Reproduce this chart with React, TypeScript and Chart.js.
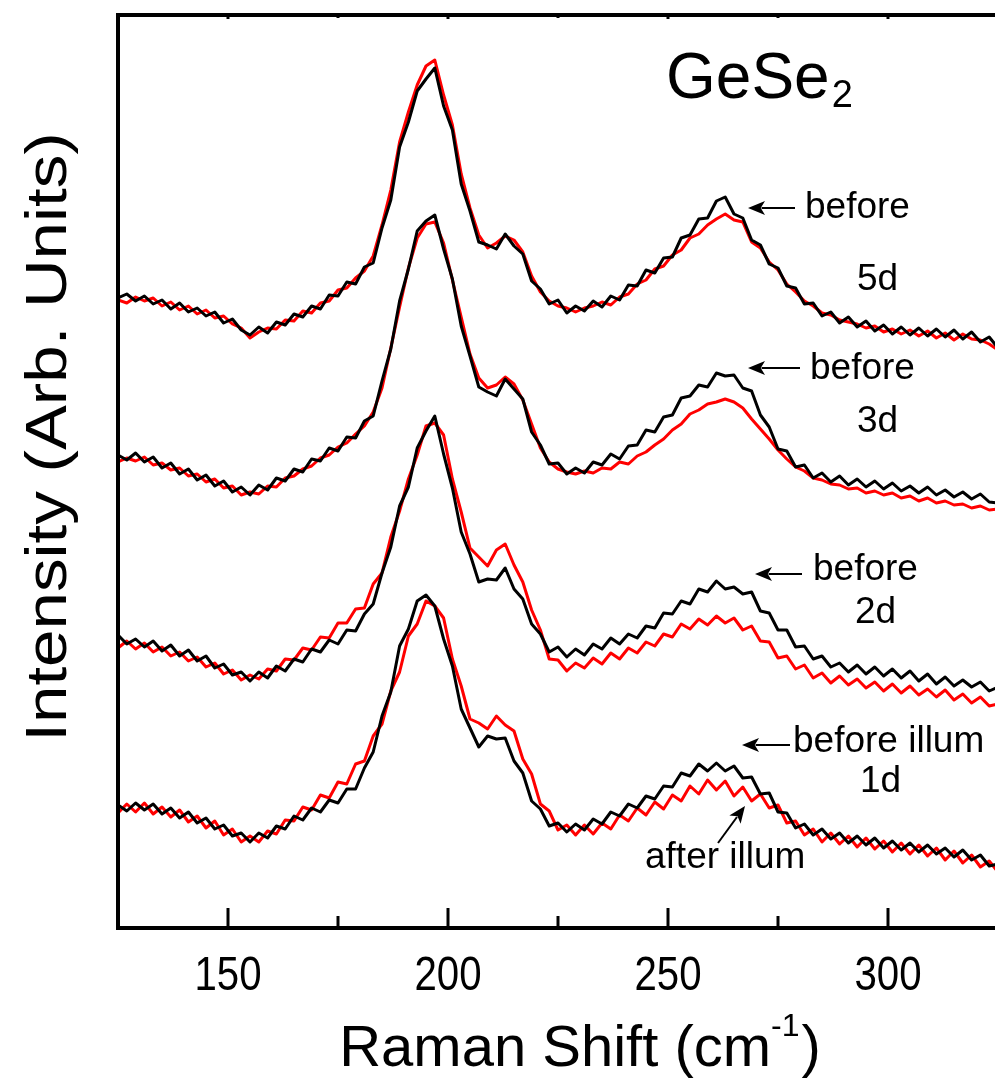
import React, { useEffect, useRef } from "react";
import { Chart, registerables } from "chart.js";

Chart.register(...registerables);

// Raman shift sampling grid (cm^-1)
const SHIFT = [
  125, 127, 129, 131, 133, 135, 137, 139, 141, 143,
  145, 147, 149, 151, 153, 155, 157, 159, 161, 163,
  165, 167, 169, 171, 173, 175, 177, 179, 181, 183,
  185, 187, 189, 191, 193, 195, 197, 199, 201, 203,
  205, 207, 209, 211, 213, 215, 217, 219, 221, 223,
  225, 227, 229, 231, 233, 235, 237, 239, 241, 243,
  245, 247, 249, 251, 253, 255, 257, 259, 261, 263,
  265, 267, 269, 271, 273, 275, 277, 279, 281, 283,
  285, 287, 289, 291, 293, 295, 297, 299, 301, 303,
  305, 307, 309, 311, 313, 315, 317, 319, 321, 323,
  325,
];

// Offset intensities (arb. units), "before" = black, "after" = red
const BEFORE_5D = [
  702, 706, 699, 704, 696, 700, 691, 697, 688, 692,
  684, 688, 677, 681, 670, 665, 673, 667, 678, 675,
  686, 683, 694, 691, 705, 704, 718, 716, 733, 737,
  772, 800, 853, 878, 909, 921, 932, 894, 870, 816,
  789, 758, 755, 751, 766, 754, 746, 719, 711, 696,
  700, 687, 694, 689, 699, 693, 704, 700, 715, 714,
  730, 727, 742, 743, 762, 765, 781, 782, 799, 803,
  786, 782, 760, 755, 736, 732, 714, 712, 696, 697,
  684, 688, 677, 683, 673, 679, 669, 675, 666, 673,
  665, 672, 664, 671, 663, 670, 661, 668, 658, 663,
  652,
];
const AFTER_5D = [
  700, 697, 703, 699, 702, 694, 698, 690, 694, 686,
  690, 682, 684, 676, 672, 662, 668, 672, 671, 680,
  679, 689, 687, 697, 699, 710, 712, 722, 729, 744,
  775, 810, 858, 888, 915, 934, 940, 905, 875, 826,
  792, 765, 752, 757, 764, 760, 748, 724, 708, 699,
  694, 692, 688, 692, 694, 698, 695, 703, 706, 716,
  720, 731, 734, 745, 750, 762, 766, 775, 781, 786,
  780, 778, 758, 752, 738, 730, 716, 708, 699, 694,
  687, 685, 680, 678, 676, 672, 674, 668, 671, 666,
  670, 664, 669, 662, 667, 660, 666, 661, 660, 656,
  650,
];
const BEFORE_3D = [
  545, 540, 547, 538, 543, 532, 537, 526, 531, 520,
  525, 514, 519, 508, 513, 505, 515, 510, 522, 519,
  531, 528, 541, 539, 552, 549, 563, 562, 579, 584,
  619, 651, 699, 731, 769, 779, 785, 751, 721, 674,
  644, 613, 608, 604, 621, 611, 601, 568, 555, 536,
  537, 526, 532, 527, 538, 535, 546, 541, 554, 555,
  570, 568, 583, 585, 602, 604, 615, 613, 627, 624,
  625, 612, 609, 585, 573, 551, 549, 533, 535, 522,
  527, 518, 524, 515, 521, 513, 519, 511, 517, 509,
  514, 507, 513, 505, 510, 503, 508, 501, 506, 498,
  497,
];
const AFTER_3D = [
  538, 542, 539, 543, 535, 537, 530, 532, 524, 526,
  518, 521, 512, 514, 505, 508, 506, 514, 513, 522,
  524, 531, 534, 542, 545, 553, 557, 566, 574, 588,
  612, 652, 693, 732, 762, 776, 778, 757, 720, 683,
  646, 622, 612, 615, 623, 616, 600, 576, 552, 538,
  531, 528, 526, 529, 527, 532, 531, 538, 536, 544,
  548, 555, 561, 570, 576, 586, 590, 596, 598, 601,
  598, 592, 581, 571, 561, 550, 541, 533, 529, 522,
  520, 516, 515, 511, 512, 507, 509, 505, 507, 502,
  504, 499, 502, 497, 499, 495, 496, 492, 494, 490,
  491,
];
const BEFORE_2D = [
  365, 356, 361, 353, 359, 349, 355, 344, 350, 339,
  344, 332, 336, 325, 328, 319, 328, 322, 334, 329,
  341, 338, 351, 348, 360, 356, 370, 369, 386, 396,
  427, 453, 494, 513, 552, 569, 584, 546, 512, 468,
  446, 418, 421, 420, 432, 411, 401, 376, 366, 348,
  353, 343, 351, 345, 356, 351, 362, 356, 366, 362,
  374, 372, 387, 386, 399, 396, 411, 408, 419, 411,
  413, 406, 408, 389, 387, 370, 370, 353, 354, 341,
  344, 333, 337, 328, 335, 326, 333, 324, 331, 322,
  329, 319, 326, 316, 323, 314, 320, 313, 318, 309,
  313,
];
const AFTER_2D = [
  352, 359, 351, 357, 348, 353, 344, 348, 339, 343,
  333, 337, 326, 330, 320, 325, 321, 331, 329, 341,
  340, 352, 350, 363, 362, 377, 377, 391, 392, 416,
  427, 463, 489, 521, 545, 574, 577, 565, 521, 488,
  452, 443, 434, 450, 456, 435, 418, 390, 370, 341,
  340, 329, 337, 332, 342, 336, 347, 341, 352, 347,
  358, 354, 366, 363, 376, 371, 381, 375, 384, 377,
  382, 370, 374, 359, 358, 342, 344, 331, 335, 322,
  327, 317, 324, 315, 321, 312, 318, 309, 316, 307,
  314, 305, 311, 303, 310, 300, 306, 297, 303, 294,
  296,
];
const BEFORE_1D = [
  195, 189, 197, 190, 196, 186, 192, 182, 188, 177,
  182, 171, 175, 164, 167, 158, 167, 162, 174, 171,
  184, 180, 192, 188, 200, 197, 211, 211, 232, 248,
  284, 308, 354, 371, 399, 405, 394, 361, 334, 291,
  272, 253, 264, 261, 262, 239, 227, 199, 191, 174,
  177, 168, 176, 170, 181, 176, 188, 184, 196, 192,
  204, 201, 214, 213, 227, 224, 236, 229, 237, 229,
  234, 222, 223, 206, 207, 188, 187, 172, 176, 165,
  171, 161, 167, 157, 164, 155, 162, 152, 159, 150,
  157, 148, 155, 146, 152, 143, 150, 140, 145, 134,
  136,
];
const AFTER_1D = [
  187, 196, 188, 197, 186, 193, 183, 190, 178, 184,
  172, 179, 165, 171, 158, 164, 158, 169, 166, 180,
  179, 193, 190, 205, 202, 218, 216, 236, 239, 264,
  276, 309, 328, 364, 376, 399, 394, 382, 341, 314,
  281, 277, 271, 284, 275, 269, 241, 226, 196, 189,
  170, 175, 165, 175, 166, 177, 171, 185, 179, 192,
  185, 198, 191, 205, 199, 214, 206, 220, 210, 219,
  204, 213, 199, 206, 192, 195, 177, 179, 165, 171,
  158, 167, 156, 164, 153, 162, 151, 159, 148, 157,
  146, 155, 144, 152, 140, 149, 137, 145, 133, 139,
  128,
];

const MAJOR_TICKS = [150, 200, 250, 300];
const MINOR_TICKS = [175, 225, 275];
const X_MIN = 125;
const X_MAX = 325;
const Y_MIN = 72;
const Y_MAX = 985;

const FONT = '"Liberation Sans", Arial, Helvetica, sans-serif';

function arrowHead(ctx: CanvasRenderingContext2D, fx: number, fy: number, tx: number, ty: number) {
  const ang = Math.atan2(ty - fy, tx - fx);
  const len = 17;
  const hw = 7;
  ctx.beginPath();
  ctx.moveTo(fx, fy);
  ctx.lineTo(tx - Math.cos(ang) * len * 0.8, ty - Math.sin(ang) * len * 0.8);
  ctx.stroke();
  ctx.beginPath();
  ctx.moveTo(tx, ty);
  ctx.lineTo(tx - Math.cos(ang) * len - Math.sin(ang) * hw, ty - Math.sin(ang) * len + Math.cos(ang) * hw);
  ctx.lineTo(tx - Math.cos(ang) * len * 0.75, ty - Math.sin(ang) * len * 0.75);
  ctx.lineTo(tx - Math.cos(ang) * len + Math.sin(ang) * hw, ty - Math.sin(ang) * len - Math.cos(ang) * hw);
  ctx.closePath();
  ctx.fill();
}

const overlay = {
  id: "overlay",
  afterDatasetsDraw(chart: any) {
    const { ctx, chartArea: a, scales } = chart;
    const xs = scales.x;
    ctx.save();
    ctx.fillStyle = "#000";
    ctx.strokeStyle = "#000";

    // frame
    ctx.lineWidth = 4;
    ctx.lineCap = "square";
    ctx.beginPath();
    ctx.moveTo(a.right + 4, a.top);
    ctx.lineTo(a.left, a.top);
    ctx.lineTo(a.left, a.bottom);
    ctx.lineTo(a.right + 4, a.bottom);
    ctx.stroke();
    ctx.beginPath();
    ctx.moveTo(a.right, a.top);
    ctx.lineTo(a.right, a.bottom);
    ctx.stroke();

    // ticks (inward)
    ctx.lineCap = "butt";
    ctx.lineWidth = 3;
    for (const v of MAJOR_TICKS) {
      const px = Math.round(xs.getPixelForValue(v));
      ctx.beginPath();
      ctx.moveTo(px, a.bottom);
      ctx.lineTo(px, a.bottom - 20);
      ctx.stroke();
      ctx.beginPath();
      ctx.moveTo(px, a.top);
      ctx.lineTo(px, a.top + 4);
      ctx.stroke();
    }
    for (const v of MINOR_TICKS) {
      const px = Math.round(xs.getPixelForValue(v));
      ctx.beginPath();
      ctx.moveTo(px, a.bottom);
      ctx.lineTo(px, a.bottom - 12);
      ctx.stroke();
      ctx.beginPath();
      ctx.moveTo(px, a.top);
      ctx.lineTo(px, a.top + 3);
      ctx.stroke();
    }

    // tick labels
    ctx.textBaseline = "alphabetic";
    ctx.font = `49px ${FONT}`;
    ctx.textAlign = "center";
    for (const v of MAJOR_TICKS) {
      const px = xs.getPixelForValue(v);
      ctx.save();
      ctx.translate(px, a.bottom + 62);
      ctx.scale(0.82, 1);
      ctx.fillText(String(v), 0, 0);
      ctx.restore();
    }

    // x title with superscript
    ctx.textAlign = "left";
    const main = "Raman Shift (cm";
    const sup = "-1";
    const close = ")";
    ctx.font = `58px ${FONT}`;
    const wMain = ctx.measureText(main).width;
    const wClose = ctx.measureText(close).width;
    ctx.font = `32px ${FONT}`;
    const wSup = ctx.measureText(sup).width;
    const total = wMain + wSup + 2 + wClose;
    let tx = 580 - total / 2;
    const base = a.bottom + 138;
    ctx.font = `58px ${FONT}`;
    ctx.fillText(main, tx, base);
    tx += wMain;
    ctx.font = `32px ${FONT}`;
    ctx.fillText(sup, tx, base - 30);
    tx += wSup + 2;
    ctx.font = `58px ${FONT}`;
    ctx.fillText(close, tx, base);

    // y title (slightly stretched along its length)
    ctx.save();
    ctx.translate(66, 437);
    ctx.rotate(-Math.PI / 2);
    ctx.scale(1.16, 1);
    ctx.textAlign = "center";
    ctx.font = `58px ${FONT}`;
    ctx.fillText("Intensity (Arb. Units)", 0, 0);
    ctx.restore();

    // GeSe2 label
    ctx.textAlign = "left";
    ctx.font = `64px ${FONT}`;
    ctx.fillText("GeSe", 666, 98);
    const wG = ctx.measureText("GeSe").width;
    ctx.font = `38px ${FONT}`;
    ctx.fillText("2", 666 + wG + 2, 107);

    // annotations
    ctx.font = `37px ${FONT}`;
    const labels: [string, number, number][] = [
      ["before", 805, 218],
      ["5d", 857, 290],
      ["before", 810, 379],
      ["3d", 857, 432],
      ["before", 813, 580],
      ["2d", 855, 623],
      ["before illum", 793, 752],
      ["1d", 860, 792],
      ["after illum", 645, 868],
    ];
    for (const [t, x, y] of labels) ctx.fillText(t, x, y);

    ctx.lineWidth = 2;
    arrowHead(ctx, 795, 208, 748, 208);
    arrowHead(ctx, 800, 368, 748, 368);
    arrowHead(ctx, 802, 574, 755, 574);
    arrowHead(ctx, 790, 745, 742, 745);
    arrowHead(ctx, 718, 843, 745, 806);

    ctx.restore();
  },
};

function series(vals: number[]) {
  return SHIFT.map((x, i) => ({ x, y: vals[i] }));
}

export default function App() {
  const ref = useRef<HTMLCanvasElement | null>(null);
  useEffect(() => {
    if (!ref.current) return;
    const black = "#000000";
    const red = "#ff0000";
    const ds = (label: string, vals: number[], color: string) => ({
      label,
      data: series(vals),
      borderColor: color,
      backgroundColor: color,
      borderWidth: 3,
      pointRadius: 0,
      tension: 0,
      fill: false,
      borderJoinStyle: "round" as const,
    });
    const chart = new Chart(ref.current, {
      type: "line",
      data: {
        datasets: [
          ds("before 5d", BEFORE_5D, black),
          ds("before 3d", BEFORE_3D, black),
          ds("before 2d", BEFORE_2D, black),
          ds("before 1d", BEFORE_1D, black),
          ds("after 5d", AFTER_5D, red),
          ds("after 3d", AFTER_3D, red),
          ds("after 2d", AFTER_2D, red),
          ds("after 1d", AFTER_1D, red),
        ],
      },
      options: {
        responsive: false,
        animation: false,
        devicePixelRatio: 1,
        layout: { padding: { left: 118, right: 2, top: 15, bottom: 154 } },
        plugins: { legend: { display: false }, tooltip: { enabled: false } },
        scales: {
          x: { type: "linear", min: X_MIN, max: X_MAX, display: false },
          y: { type: "linear", min: Y_MIN, max: Y_MAX, display: false },
        },
      },
      plugins: [overlay],
    });
    return () => chart.destroy();
  }, []);
  return (
    <div style={{ position: "fixed", left: 0, top: 0, width: 995, height: 1082, overflow: "hidden", background: "#fff" }}>
      <canvas ref={ref} width={1000} height={1082} style={{ display: "block", width: 1000, height: 1082 }} />
    </div>
  );
}
